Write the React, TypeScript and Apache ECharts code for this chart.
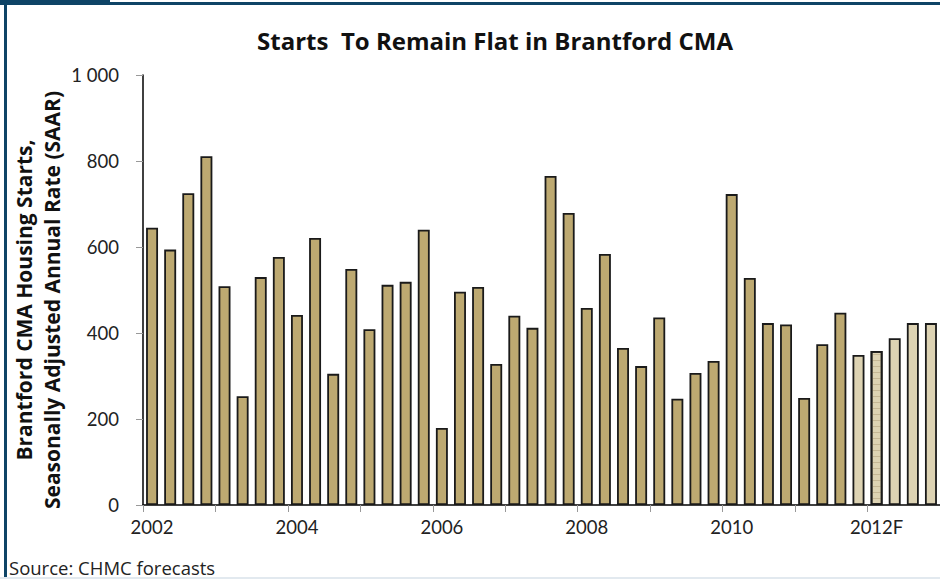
import React, { useEffect, useRef } from "react";
import * as echarts from "echarts";

const years = ["2002", "2003", "2004", "2005", "2006", "2007", "2008", "2009", "2010", "2011", "2012"];
const quarters = ["Q1", "Q2", "Q3", "Q4"];
const categories: string[] = years.flatMap((y) => quarters.map((q) => `${y} ${q}`));

// Seasonally adjusted annual rate of housing starts, by quarter
const startsValues = [
  645, 594, 725, 811,
  509, 253, 530, 577,
  442, 621, 305, 549,
  409, 512, 519, 640,
  179, 496, 507, 328,
  440, 412, 765, 679,
  458, 584, 365, 323,
  436, 247, 307, 335,
  723, 528, 423, 420,
  249, 374, 447, 349,
  358, 388, 423, 423,
];
// index from which values are forecasts
const forecastStart = 39;

const xTickLabels: Record<string, string> = {
  "2002 Q1": "2002",
  "2004 Q1": "2004",
  "2006 Q1": "2006",
  "2008 Q1": "2008",
  "2010 Q1": "2010",
  "2012 Q1": "2012F",
};

const FONT = "Lato, 'Open Sans', sans-serif";
const WIDE = "'Open Sans', Lato, sans-serif";
const FRAME = "#0e4466";

export default function App() {
  const ref = useRef<HTMLDivElement>(null);
  useEffect(() => {
    if (!ref.current) return;
    const chart = echarts.init(ref.current, undefined, { renderer: "svg" });
    const data = startsValues.map((v, i) => {
      if (i < forecastStart) return { value: v };
      const item: any = {
        value: v,
        itemStyle: { color: "#ddd3b3" },
      };
      if (i === 40) {
        item.itemStyle.decal = {
          symbol: "rect",
          dashArrayX: [1, 0],
          dashArrayY: [1, 5],
          color: "rgba(150,130,90,0.35)",
        };
      }
      return item;
    });
    chart.setOption({
      animation: false,
      backgroundColor: "#ffffff",
      textStyle: { fontFamily: FONT },
      title: {
        text: "Starts  To Remain Flat in Brantford CMA",
        left: 490,
        top: 23,
        textAlign: "center",
        textStyle: { fontFamily: WIDE, fontSize: 24, fontWeight: "bold", color: "#111" },
      },
      grid: { left: 143, right: 0, top: 75, bottom: 74, containLabel: false },
      xAxis: {
        type: "category",
        data: categories,
        boundaryGap: true,
        axisLine: { show: true, lineStyle: { color: "#000", width: 1.5 } },
        axisTick: { show: true, interval: 3, length: 7, lineStyle: { color: "#999" } },
        axisLabel: {
          interval: (idx: number, val: string) => val in xTickLabels,
          formatter: (val: string) => xTickLabels[val] || "",
          margin: 12,
          fontSize: 18.5,
          color: "#222",
          fontFamily: FONT,
        },
      },
      yAxis: {
        type: "value",
        min: 0,
        max: 1000,
        interval: 200,
        axisLine: { show: true, lineStyle: { color: "#000", width: 1.5 } },
        axisTick: { show: true, length: 7, lineStyle: { color: "#999" } },
        splitLine: { show: false },
        axisLabel: {
          margin: 24,
          fontSize: 18.5,
          color: "#222",
          fontFamily: FONT,
          formatter: (v: number) => (v >= 1000 ? "1 000" : String(v)),
        },
      },
      series: [
        {
          type: "bar",
          data,
          barCategoryGap: "34%",
          itemStyle: { color: "#bda971", borderColor: "#1a1a1a", borderWidth: 1.8 },
        },
      ],
      graphic: [
        { type: "rect", shape: { x: 0, y: 0, width: 110, height: 5 }, style: { fill: FRAME } },
        { type: "rect", shape: { x: 110, y: 2, width: 830, height: 3 }, style: { fill: FRAME } },
        { type: "rect", shape: { x: 4, y: 0, width: 3, height: 579 }, style: { fill: FRAME } },
        { type: "rect", shape: { x: 0, y: 577, width: 940, height: 2 }, style: { fill: "#e2e9ef" } },
        {
          type: "text",
          x: 24,
          y: 300,
          rotation: Math.PI / 2,
          style: {
            text: "Brantford CMA Housing Starts,",
            fontFamily: WIDE,
            fontSize: 21,
            fontWeight: "bold",
            fill: "#111",
            textAlign: "center",
            textVerticalAlign: "middle",
          },
        },
        {
          type: "text",
          x: 52,
          y: 300,
          rotation: Math.PI / 2,
          style: {
            text: "Seasonally Adjusted Annual Rate (SAAR)",
            fontFamily: WIDE,
            fontSize: 21,
            fontWeight: "bold",
            fill: "#111",
            textAlign: "center",
            textVerticalAlign: "middle",
          },
        },
        {
          type: "text",
          x: 9,
          y: 567,
          style: {
            text: "Source: CHMC forecasts",
            fontFamily: WIDE,
            fontSize: 18.5,
            fill: "#222",
            textAlign: "left",
            textVerticalAlign: "middle",
          },
        },
      ],
    });
    return () => chart.dispose();
  }, []);
  return (
    <div
      ref={ref}
      style={{ position: "fixed", left: 0, top: 0, width: 940, height: 579 }}
    />
  );
}
